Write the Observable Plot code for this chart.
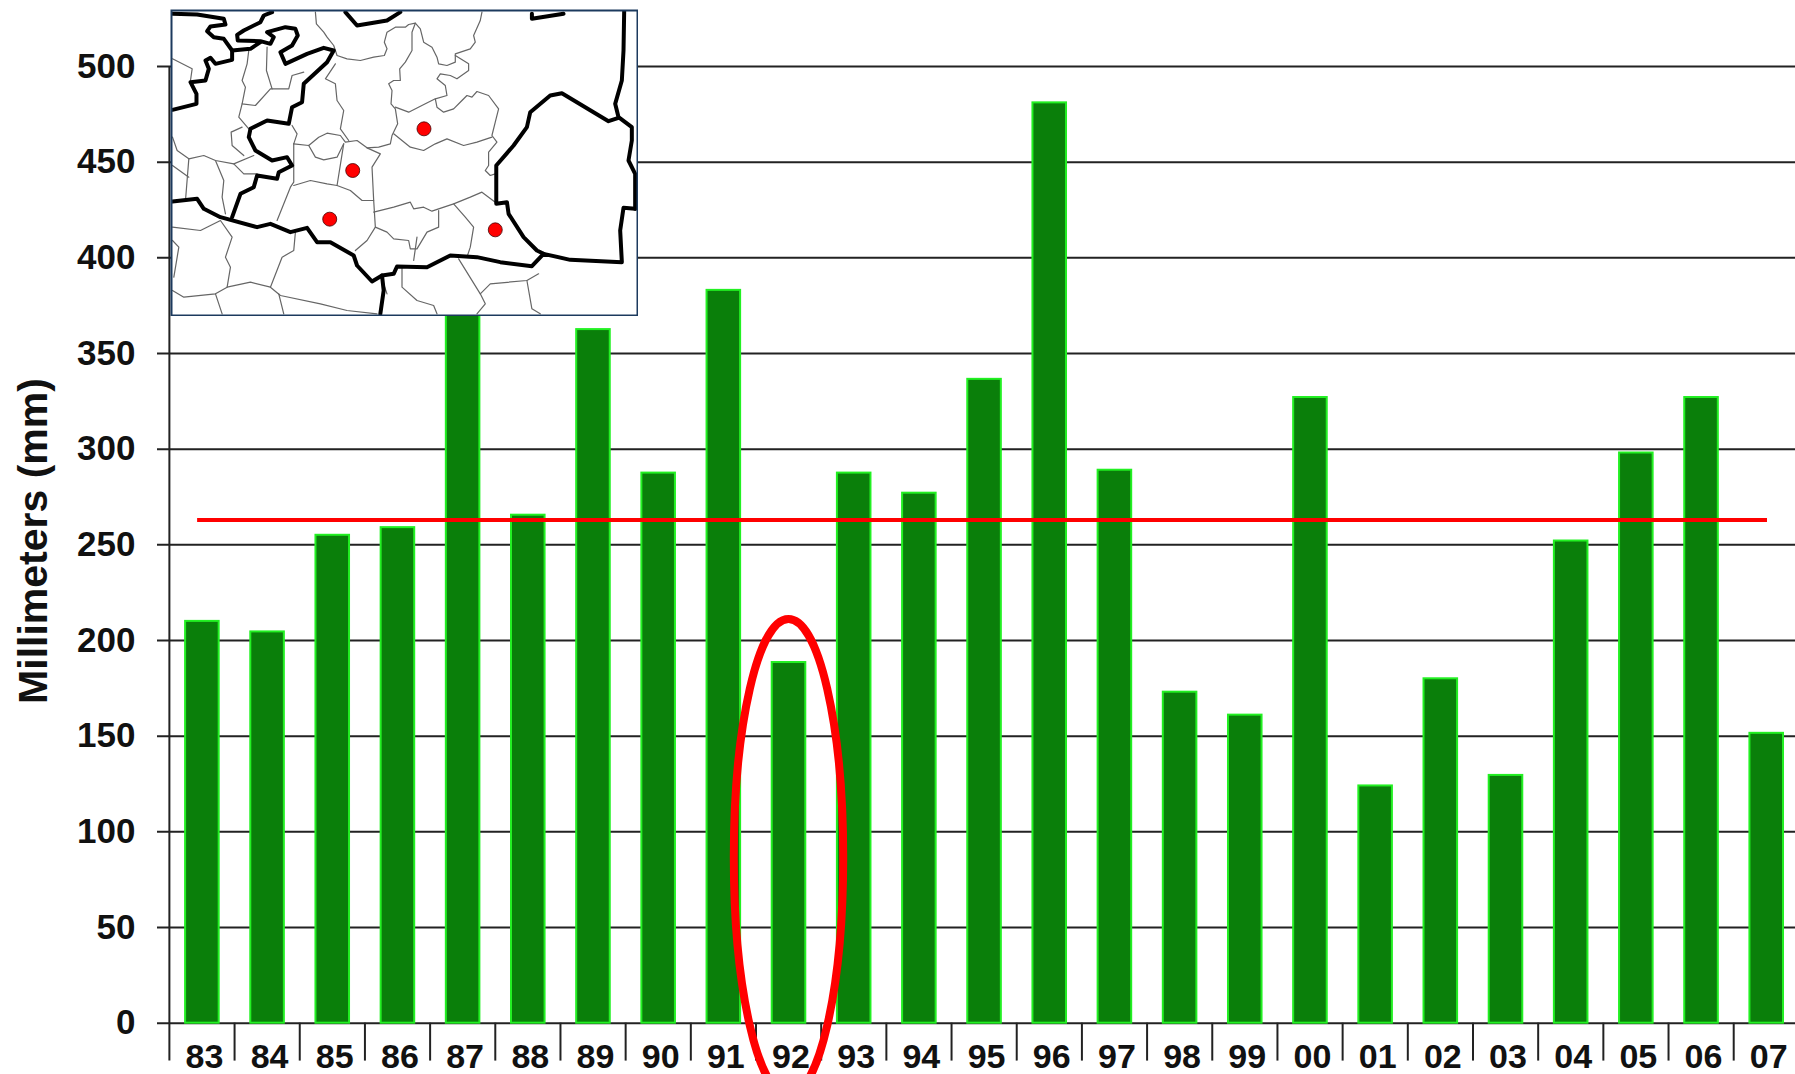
<!DOCTYPE html>
<html><head><meta charset="utf-8">
<script src="https://cdn.jsdelivr.net/npm/d3@7"></script>
<script src="https://cdn.jsdelivr.net/npm/@observablehq/plot@0.6"></script>
<style>html,body{margin:0;padding:0;background:#fff;overflow:hidden}svg{display:block}</style>
</head><body><div id="chart"></div>
<script>
const years = ["83","84","85","86","87","88","89","90","91","92","93","94","95","96","97","98","99","00","01","02","03","04","05","06","07"];
const rainfall = [210,204.5,255,259,375,265.5,362.5,287.5,383,188.5,287.5,277,336.5,481,289,173,161,327,124,180,129.5,252,298,327,151.5];
const meanRainfall = 263;
const yTicks = [0,50,100,150,200,250,300,350,400,450,500];
const highlightYear = ["92"];
const highlightSpan = [-38, 211]; // mm covered by the ellipse
const yTitle = ["Millimeters (mm)"];

// inset map in crop coordinates
const thickBorders = [
 [[36,40],[110,42],[190,55],[195,72],[150,78],[140,92],[160,110],[190,115],[215,150],[215,178],[165,190],[150,172],[135,180],[145,205],[135,240],[90,245],[108,280],[108,310],[36,328]],
 [[215,150],[270,145],[300,125]],
 [[335,35],[310,45],[300,65],[250,90],[230,103],[232,120],[300,122],[330,130],[340,110],[320,95],[375,80],[405,85],[412,105],[395,135],[360,155],[375,190],[440,160],[490,142],[520,150],[500,185],[430,250],[425,305],[395,320],[385,370],[320,360],[270,385],[265,410],[285,450],[335,480],[380,470],[395,495],[355,515],[350,535],[290,525],[280,560],[240,580],[215,650]],
 [[36,603],[110,595],[130,625],[180,650],[290,680],[330,670],[390,695],[440,682],[470,725],[510,725],[580,765],[590,795],[635,843],[665,825],[700,820],[710,798],[800,800],[870,765],[950,770],[1020,785],[1115,797],[1150,760],[1230,778],[1385,785],[1380,690],[1390,622],[1425,625]],
 [[665,825],[670,870],[660,940]],
 [[555,35],[590,75],[680,60],[720,35]],
 [[1115,40],[1115,55],[1210,40]],
 [[1392,32],[1390,150],[1385,240],[1365,310],[1375,350],[1415,380],[1415,420],[1405,480],[1425,520],[1425,625]],
 [[1375,352],[1345,362],[1205,278],[1170,285],[1110,335],[1100,380],[1060,435],[1008,495],[1008,610],[1040,605],[1045,640],[1090,710],[1130,750],[1150,760]]
];
const thinBorders = [
 [[36,175],[95,205],[90,240]],
 [[265,150],[260,190],[245,240],[255,260],[245,310],[285,315],[330,265],[385,265],[395,225],[430,215]],
 [[320,140],[318,210],[335,265]],
 [[245,310],[235,350],[265,385]],
 [[245,380],[212,395],[215,435],[250,465]],
 [[36,410],[50,450],[85,475],[130,465],[165,480],[220,490],[280,465]],
 [[220,490],[250,520],[290,520]],
 [[165,480],[190,540],[185,590],[195,640]],
 [[85,475],[75,600]],
 [[36,495],[85,530]],
 [[400,430],[400,545],[390,560],[350,660]],
 [[400,555],[450,540],[500,550],[530,555],[570,570],[605,600],[640,600],[645,680],[620,720],[585,750]],
 [[400,430],[445,435],[475,410],[500,398],[540,405],[555,425],[590,420],[620,442],[660,460],[635,500],[640,600]],
 [[445,435],[465,470],[490,478],[530,470],[550,430]],
 [[550,430],[530,555]],
 [[395,375],[410,400],[400,430]],
 [[525,190],[495,235],[525,250],[530,300],[550,330],[540,385],[565,420]],
 [[465,35],[468,70],[490,95],[500,110],[520,135],[530,165],[560,175],[600,180],[640,170],[672,165],[680,145],[672,125],[680,95],[705,80],[735,80],[745,72],[765,68],[755,95],[755,150],[735,185],[718,205],[720,240],[700,240],[685,250],[695,270],[692,310],[705,325],[712,370],[695,405],[690,430],[655,440],[620,442]],
 [[765,68],[780,85],[790,125],[815,140],[830,170],[835,190],[860,195],[885,185],[885,160],[930,145],[945,125],[940,105],[960,60],[965,35]],
 [[885,165],[925,190],[925,210],[890,235],[870,225],[840,220],[830,235],[855,255],[860,285],[825,295],[795,310],[745,335],[705,320]],
 [[825,295],[830,320],[850,335],[880,325],[905,300],[920,285],[935,290],[950,273],[985,285],[1015,325],[1005,365],[995,405],[1010,425],[985,455],[985,495],[975,510],[990,525],[1005,520]],
 [[700,400],[725,420],[750,440],[790,450],[825,430],[860,415],[910,435],[950,425],[995,410]],
 [[640,635],[700,620],[750,605],[760,625],[790,620],[815,632],[835,625],[880,610],[930,590],[965,575],[1005,605]],
 [[645,680],[680,695],[700,715],[745,720],[750,745],[770,745],[800,695],[835,680],[835,630]],
 [[880,610],[915,650],[940,680],[930,740],[920,770]],
 [[770,710],[765,745],[760,780]],
 [[36,680],[120,690],[180,660],[215,710],[195,770],[210,800],[200,860],[165,880],[70,890],[36,870]],
 [[36,720],[55,740],[40,830]],
 [[405,695],[400,750],[365,770],[330,860],[360,885],[480,910],[560,930],[650,940]],
 [[200,860],[270,845],[330,860]],
 [[165,880],[185,940]],
 [[355,880],[370,940]],
 [[725,800],[725,860],[770,900],[820,915],[830,940]],
 [[895,775],[960,880],[975,910],[950,940]],
 [[960,880],[990,850],[1100,840],[1135,820]],
 [[1100,840],[1115,925],[1140,940]],
 [[670,850],[680,880]]
];
const stations = [[791,385],[577,510],[508,656],[1005,688]];

const data = years.map((year,i)=>({year,value:rainfall[i]}));
const flatten = list => list.flatMap((pts,id)=>pts.map(([x,y])=>({id,x,y})));

function insetMap(){
  return Plot.plot({
    width:468,height:307,marginTop:1,marginRight:1,marginBottom:1,marginLeft:1,
    style:{background:"none",overflow:"hidden",width:"468px",height:"307px",maxWidth:"none"},
    x:{domain:[33,1432],range:[1,467],axis:null},
    y:{domain:[30,945],range:[1,306],axis:null},
    marks:[
      Plot.frame({fill:"white",stroke:"none"}),
      Plot.line(flatten(thinBorders),{x:"x",y:"y",z:"id",stroke:"#666",strokeWidth:1.2,curve:"linear",clip:true}),
      Plot.line(flatten(thickBorders),{x:"x",y:"y",z:"id",stroke:"#000",strokeWidth:4,curve:"linear",clip:true}),
      Plot.dot(stations,{x:d=>d[0],y:d=>d[1],r:7,fill:"#f00",stroke:"#400",strokeWidth:0.8}),
      Plot.frame({stroke:"#1c3a5e",strokeWidth:2})
    ]
  });
}

const chart = Plot.plot({
  width:1795,height:1074,
  marginLeft:157,marginRight:0,marginTop:0,marginBottom:51,
  style:{background:"#fff",fontFamily:"'Liberation Sans',Arial,sans-serif",fontWeight:"bold",overflow:"hidden"},
  x:{domain:years,range:[169.3,1798.8],paddingInner:0.485,paddingOuter:0.2425,round:false,label:null},
  y:{domain:[0,500],range:[1022.7,66],label:null},
  marks:[
    Plot.ruleY(yTicks,{stroke:"#222",strokeWidth:2}),
    Plot.ruleX(years,{x:d=>d,y1:-19.8,y2:d=>d===years[0]?500:0,dx:-33,stroke:"#222",strokeWidth:2}),
    Plot.barY(data,{x:"year",y:"value",fill:"#0a7f0a",stroke:"#22f022",strokeWidth:2}),
    Plot.ruleY([meanRainfall],{x1:()=>years[0],x2:()=>years[years.length-1],insetLeft:12,insetRight:16,stroke:"#f00",strokeWidth:4}),
    Plot.axisX({tickSize:0,tickPadding:20,fontSize:34,fill:"#111",dx:2,label:null}),
    Plot.axisY({ticks:yTicks,tickSize:0,tickPadding:22,fontSize:35,fill:"#111",label:null}),
    Plot.text(yTitle,{frameAnchor:"left",textAnchor:"middle",rotate:-90,dx:-124,dy:29,fontSize:41,fill:"#111"}),
    () => { // inset map sits over the chart's top left
      const inset = insetMap();
      inset.setAttribute("x",170); inset.setAttribute("y",9);
      return inset;
    },
    (index,{x,y}) => { // red ellipse round the highlighted year
      const el = document.createElementNS("http://www.w3.org/2000/svg","ellipse");
      const bw = typeof x.bandwidth === "function" ? x.bandwidth() : x.bandwidth;
      const top = y(highlightSpan[1]), bottom = y(highlightSpan[0]);
      el.setAttribute("cx",x(highlightYear[0])+bw/2);
      el.setAttribute("cy",(top+bottom)/2);
      el.setAttribute("rx",bw*1.63);
      el.setAttribute("ry",(bottom-top)/2);
      el.setAttribute("fill","none");
      el.setAttribute("stroke","#f00");
      el.setAttribute("stroke-width",8);
      return el;
    }
  ]
});
document.getElementById("chart").append(chart);
</script></body></html>
